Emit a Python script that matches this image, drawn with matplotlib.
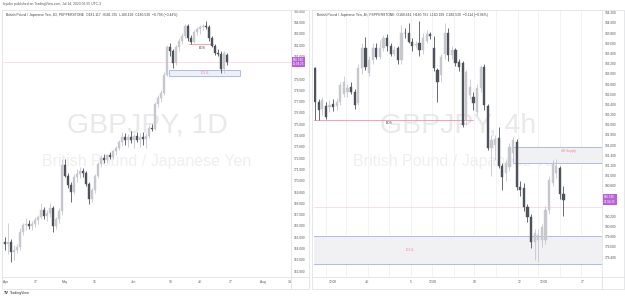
import numpy as np
import matplotlib
matplotlib.use("Agg")
import matplotlib.pyplot as plt
from matplotlib.patches import Rectangle
from matplotlib.transforms import blended_transform_factory

plt.rcParams['font.family'] = ['Liberation Sans', 'DejaVu Sans']

# --- GBPJPY daily candles, 3 Apr -> 14 Jul 2023
d_open = [164.6, 164.4, 164.6, 163.7, 163.9, 164.1, 165.5, 166.1, 166.15, 166.0,
          166.2, 166.5, 166.8, 167.4, 166.9, 167.1, 167.6, 166.0, 166.6, 167.3,
          171.4, 170.4, 169.6, 169.0, 170.3, 170.6, 170.9, 170.7, 169.7, 168.4,
          169.2, 170.4, 171.5, 172.0, 171.8, 172.3, 172.1, 172.6, 172.9, 173.4,
          173.9, 173.6, 173.9, 173.6, 174.0, 173.6, 173.9, 173.7, 174.0, 174.7,
          174.6, 176.8, 177.3, 177.8, 179.4, 181.8, 181.5, 180.4, 181.8, 182.4,
          182.8, 183.7, 182.6, 182.3, 183.2, 183.4, 183.6, 183.7, 183.6, 182.6,
          181.9, 181.3, 181.2, 179.9, 181.117]
d_high = [165.0, 166.3, 164.8, 164.3, 164.4, 165.8, 166.3, 166.7, 166.5, 166.4,
          166.8, 167.0, 168.0, 167.7, 167.4, 168.0, 167.8, 166.8, 167.6, 171.9,
          171.9, 170.7, 169.9, 170.6, 171.0, 171.2, 171.1, 170.9, 169.9, 169.4,
          170.6, 171.7, 172.3, 172.4, 172.4, 172.5, 172.7, 173.1, 173.6, 174.3,
          174.2, 174.1, 174.4, 174.2, 174.3, 174.2, 174.3, 174.2, 174.9, 175.0,
          177.0, 177.6, 178.0, 179.6, 182.0, 182.2, 181.7, 182.0, 182.6, 183.1,
          183.9, 183.9, 182.9, 183.3, 183.6, 183.8, 183.9, 184.1, 183.8, 182.8,
          182.1, 181.7, 181.5, 181.5, 181.335]
d_low = [163.9, 163.5, 162.8, 163.0, 163.6, 163.9, 165.2, 165.6, 165.7, 165.6,
         165.9, 166.2, 166.6, 166.6, 166.4, 166.8, 165.5, 165.7, 166.3, 167.0,
         170.3, 169.4, 168.1, 168.8, 169.9, 170.2, 170.3, 169.5, 167.9, 168.1,
         168.9, 170.2, 171.2, 171.6, 171.6, 171.9, 171.9, 172.3, 172.7, 173.1,
         173.2, 173.0, 173.3, 172.9, 173.4, 173.0, 173.2, 172.9, 173.8, 174.4,
         174.5, 176.5, 177.0, 177.6, 179.3, 181.0, 180.0, 180.2, 181.5, 182.1,
         182.6, 182.4, 182.1, 182.2, 182.9, 183.0, 183.3, 183.4, 182.4, 181.8,
         181.1, 181.0, 179.5, 179.5, 180.199]
d_close = [164.4, 164.6, 163.7, 163.9, 164.1, 165.5, 166.1, 166.15, 166.0, 166.2,
           166.5, 166.8, 167.4, 166.9, 167.1, 167.6, 166.0, 166.6, 167.3, 171.4,
           170.4, 169.6, 169.0, 170.3, 170.6, 170.9, 170.7, 169.7, 168.4, 169.2,
           170.4, 171.5, 172.0, 171.8, 172.3, 172.1, 172.6, 172.9, 173.4, 173.9,
           173.6, 173.9, 173.6, 174.0, 173.6, 173.9, 173.7, 174.0, 174.7, 174.6,
           176.8, 177.3, 177.8, 179.4, 181.8, 181.5, 180.4, 181.8, 182.4, 182.8,
           183.7, 182.6, 182.3, 183.2, 183.4, 183.6, 183.7, 183.6, 182.6, 181.9,
           181.3, 181.2, 179.9, 181.328, 180.53]

d_tick_pos = [0, 10, 20, 30, 43, 55, 65, 75, 86, 95]
d_tick_lab = ['Apr', '17', 'May', '15', 'Jun', '19', 'Jul', '17', 'Aug', '14']
d_price_ticks = [162, 163, 164, 165, 166, 167, 168, 169, 170, 171, 172, 173,
                 174, 175, 176, 177, 178, 179, 181, 182, 183, 184, 185]

# --- GBPJPY 4h candles, ~29 Jun -> 14 Jul 2023 (right chart)
h_open = [183.11, 182.45, 182.32, 182.36, 182.34, 182.40, 182.36, 182.45, 182.60, 182.65,
          182.75, 182.65, 182.42, 183.11, 183.50, 183.01, 183.27, 183.50, 183.34, 183.50,
          183.70, 183.54, 183.40, 183.50, 183.27, 183.81, 183.80, 183.63, 183.57, 183.60,
          183.47, 183.65, 183.78, 183.50, 183.08, 182.98, 183.40, 183.80, 183.37, 183.47,
          183.24, 183.21, 182.09, 182.59, 182.55, 182.26, 182.72, 183.14, 182.36, 181.55,
          181.60, 181.75, 181.20, 181.05, 181.18, 181.44, 181.66, 180.78, 180.75, 180.39,
          180.19, 179.70, 179.74, 179.74, 179.74, 180.33, 180.85, 181.05, 181.15, 180.641]
h_high = [183.14, 182.50, 182.55, 182.45, 182.48, 182.50, 182.52, 182.85, 182.95, 182.80,
          182.85, 182.70, 183.20, 183.60, 183.73, 183.35, 183.60, 183.60, 183.67, 183.76,
          183.78, 183.60, 183.55, 183.55, 183.96, 183.90, 183.99, 183.70, 183.65, 184.03,
          183.80, 183.86, 183.83, 183.74, 183.12, 183.40, 183.99, 183.90, 183.55, 183.50,
          183.30, 183.25, 183.08, 182.90, 182.65, 182.80, 183.18, 183.20, 182.40, 181.80,
          181.80, 181.95, 181.25, 181.30, 181.65, 181.77, 181.72, 180.90, 180.85, 180.45,
          180.25, 179.95, 179.95, 180.05, 180.40, 181.00, 181.31, 181.33, 181.20, 180.791]
h_low = [182.09, 182.09, 182.19, 182.12, 182.25, 182.28, 182.30, 182.38, 182.55, 182.55,
         182.60, 182.32, 182.38, 183.00, 183.08, 182.95, 183.20, 183.30, 183.30, 183.45,
         183.45, 183.35, 183.35, 183.20, 183.20, 183.70, 183.60, 183.45, 183.50, 183.35,
         183.40, 183.60, 183.68, 183.05, 182.45, 182.85, 183.30, 183.25, 183.30, 183.15,
         183.05, 181.96, 182.00, 182.50, 182.30, 182.20, 182.65, 182.30, 181.50, 181.00,
         181.30, 181.15, 180.72, 180.90, 181.10, 181.35, 180.72, 180.60, 180.30, 180.10,
         179.57, 179.34, 179.31, 179.60, 179.65, 180.25, 180.80, 180.95, 180.55, 180.199]
h_close = [182.45, 182.29, 182.49, 182.16, 182.39, 182.35, 182.45, 182.78, 182.85, 182.72,
           182.65, 182.39, 183.11, 183.50, 183.14, 183.27, 183.50, 183.34, 183.50, 183.70,
           183.54, 183.40, 183.47, 183.27, 183.81, 183.80, 183.63, 183.54, 183.58, 183.47,
           183.70, 183.78, 183.74, 183.11, 182.85, 183.34, 183.80, 183.37, 183.47, 183.21,
           183.14, 181.99, 183.04, 182.75, 182.42, 182.72, 183.14, 182.39, 181.55, 181.70,
           181.72, 181.20, 180.98, 181.24, 181.57, 181.70, 180.78, 180.72, 180.39, 180.19,
           179.70, 179.87, 179.83, 180.00, 180.33, 180.92, 181.24, 181.20, 180.644, 180.53]

h_tick_pos = [5, 14.4, 26.7, 32.8, 44.2, 56.7, 63.6, 74.2]
h_tick_lab = ['12:00', 'Jul', '5', '12:00', '10', '12', '12:00', '17']
h_grid = [3, 8.6, 14.7, 20.5, 26.7, 32.5, 38.6, 44.2, 50.3, 56.4, 61.9, 68.1, 74]
# 180.400 sits under the last-price tag, so it is left out
h_price_ticks = [179.4, 179.6, 179.8, 180.0, 180.2, 180.6, 180.8, 181.0, 181.2, 181.4,
                 181.6, 181.8, 182.0, 182.2, 182.4, 182.6, 182.8, 183.0, 183.2, 183.4,
                 183.6, 183.8, 184.0, 184.2]

# drawn levels
last_price = 180.53
h_line = 180.38
bos_price = 182.1
d1_zone = (179.26, 179.82)
supply_zone = (181.24, 181.56)

UP = '#c6c8ce'
DOWN = '#4f525b'
BLUE = '#9db2f2'
PINK = '#f07fa0'
TAG = '#b861d8'

W, H = 625, 298
fig = plt.figure(figsize=(W / 100, H / 100), dpi=100)
fig.patch.set_facecolor('white')


def px_axes(x0, y0, x1, y1):
    return fig.add_axes([x0 / W, 1 - y1 / H, (x1 - x0) / W, (y1 - y0) / H])


def candles(ax, o, h, l, c, width):
    x = np.arange(len(o))
    o, h, l, c = map(np.array, (o, h, l, c))
    col = np.where(c >= o, UP, DOWN)
    ax.vlines(x, l, h, colors=col, lw=0.6, zorder=3)
    ax.bar(x, np.abs(c - o), width, bottom=np.minimum(o, c), color=col,
           edgecolor=col, lw=0.3, zorder=4)


def style(ax, xlim, ylim, yticks, xt, xl):
    ax.set_xlim(*xlim)
    ax.set_ylim(*ylim)
    for s in ax.spines.values():
        s.set_visible(False)
    ax.yaxis.tick_right()
    ax.set_yticks(yticks)
    ax.set_yticklabels(['%.3f' % v for v in yticks], fontsize=2.3, color='#555555')
    ax.set_xticks(xt)
    ax.set_xticklabels(xl, fontsize=2.3, color='#555555')
    ax.tick_params(length=0, pad=2.2)
    ax.tick_params(axis='y', pad=1.6)


# ---------------- left: daily
ax1 = px_axes(3, 10, 291, 277)
candles(ax1, d_open, d_high, d_low, d_close, 0.62)
style(ax1, (-0.67, 95.33), (161.48, 185.11), d_price_ticks, d_tick_pos, d_tick_lab)
ax1.axhline(last_price, color='#f6d0de', lw=0.5, zorder=1)
ax1.plot([61.3, 69.3], [bos_price, bos_price], color=PINK, lw=0.5, zorder=2)
ax1.text(65.7, bos_price - 0.15, 'BOS', fontsize=2.3, color='#444444', ha='center', va='top')
ax1.add_patch(Rectangle((54.7, d1_zone[0]), 78.3 - 54.7, d1_zone[1] - d1_zone[0],
                        facecolor='#eef0f5', edgecolor=BLUE, lw=0.6, zorder=2))
ax1.text(66.7, sum(d1_zone) / 2, 'D1 IL', fontsize=2.4, color=PINK, ha='center', va='center', zorder=5)
ax1.text(0.5, 0.566, 'GBPJPY, 1D', transform=ax1.transAxes, fontsize=20.5, color='#e9e9e9',
         ha='center', va='center', zorder=0)
ax1.text(0.5, 0.433, 'British Pound / Japanese Yen', transform=ax1.transAxes, fontsize=11.5,
         color='#efefef', ha='center', va='center', zorder=0)
tr1 = blended_transform_factory(ax1.transAxes, ax1.transData)
ax1.text(1.006, last_price, '180.530\n11:04:25', transform=tr1, fontsize=2.2, color='white',
         ha='left', va='center', linespacing=1.1,
         bbox=dict(boxstyle='square,pad=0.35', fc=TAG, ec='none'), zorder=6, clip_on=False)

# ---------------- right: 4h
ax2 = px_axes(314, 10, 602, 277)
ax2.vlines(h_grid, 179.0, 184.3, colors='#f0f1f3', lw=0.6, zorder=0)
candles(ax2, h_open, h_high, h_low, h_close, 0.65)
style(ax2, (-0.3, 79.7), (179.01, 184.255), h_price_ticks, h_tick_pos, h_tick_lab)
ax2.axhline(h_line, color='#f6d0de', lw=0.5, zorder=1)
ax2.plot([-0.3, 43.9], [bos_price, bos_price], color=PINK, lw=0.5, zorder=2)
ax2.text(20.5, bos_price - 0.03, 'BOS', fontsize=2.3, color='#444444', ha='center', va='top')
ax2.add_patch(Rectangle((-1, d1_zone[0]), 90, d1_zone[1] - d1_zone[0],
                        facecolor='#f1f1f3', edgecolor=BLUE, lw=0.6, zorder=1))
ax2.text(26.4, sum(d1_zone) / 2, 'D1 IL', fontsize=2.4, color=PINK, ha='center', va='center', zorder=5)
ax2.add_patch(Rectangle((55, supply_zone[0]), 40, supply_zone[1] - supply_zone[0],
                        facecolor='#f1f1f3', edgecolor=BLUE, lw=0.6, zorder=1))
ax2.text(70.5, supply_zone[1] - 0.04, '4H Supply', fontsize=2.3, color=PINK, ha='center', va='top', zorder=5)
ax2.text(0.5, 0.566, 'GBPJPY, 4h', transform=ax2.transAxes, fontsize=20.5, color='#e9e9e9',
         ha='center', va='center', zorder=0)
ax2.text(0.5, 0.433, 'British Pound / Japanese Yen', transform=ax2.transAxes, fontsize=11.5,
         color='#efefef', ha='center', va='center', zorder=0)
tr2 = blended_transform_factory(ax2.transAxes, ax2.transData)
ax2.text(1.006, last_price, '180.530\n03:04:25', transform=tr2, fontsize=2.2, color='white',
         ha='left', va='center', linespacing=1.1,
         bbox=dict(boxstyle='square,pad=0.35', fc=TAG, ec='none'), zorder=6, clip_on=False)

# ---------------- panel frames and header texts
for x0, x1, xs in [(2, 309, 291), (312, 624, 602)]:
    fig.patches.append(Rectangle((x0 / W, 1 - 289 / H), (x1 - x0) / W, 279 / H, transform=fig.transFigure,
                                 fill=False, edgecolor='#dcdde0', lw=0.5))
    fig.lines.append(plt.Line2D([xs / W, xs / W], [1 - 289 / H, 1 - 10 / H], transform=fig.transFigure,
                                color='#dcdde0', lw=0.5))
    fig.lines.append(plt.Line2D([x0 / W, x1 / W], [1 - 277 / H, 1 - 277 / H], transform=fig.transFigure,
                                color='#dcdde0', lw=0.5))

fig.text(3 / W, 1 - 4.5 / H, 'fxpider published on TradingView.com, Jul 14, 2023 06:55 UTC-3',
         fontsize=2.4, color='#555555', va='center')
fig.text(6 / W, 1 - 15 / H, 'British Pound / Japanese Yen, 1D, PEPPERSTONE  O181.117  H181.335  L180.199  '
         'C180.530  \u22120.798 (\u22120.44%)', fontsize=2.4, color='#444444', va='center')
fig.text(317 / W, 1 - 15 / H, 'British Pound / Japanese Yen, 4h, PEPPERSTONE  O180.641  H180.791  L180.199  '
         'C180.530  \u22120.114 (\u22120.06%)', fontsize=2.4, color='#444444', va='center')
fig.text(4 / W, 1 - 293 / H, 'TV', fontsize=2.8, weight='bold', color='#333333', va='center')
fig.text(10 / W, 1 - 293 / H, 'TradingView', fontsize=2.6, color='#333333', va='center')

fig.savefig('out.png', dpi=100)
